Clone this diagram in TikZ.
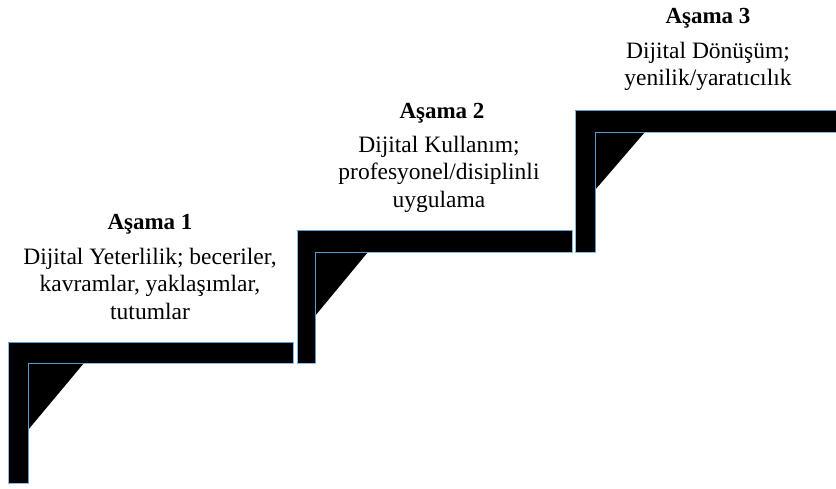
\documentclass[tikz,border=0pt]{standalone}
\usepackage{fontspec}
\setmainfont{Liberation Serif}
\definecolor{stepblue}{RGB}{91,155,213}
\tikzset{
	stair/.style={fill=black,draw=stepblue!70,line width=0.6pt},
	edge/.style={draw=stepblue,line width=1pt},
	wedge/.style={fill=black},
	stagetitle/.style={anchor=base,font=\fontsize{23}{28}\selectfont\bfseries},
	stagetext/.style={anchor=base,align=center,font=\fontsize{23.5}{27.5}\selectfont},
}
\begin{document}
\begin{tikzpicture}[x=1pt,y=-1pt]
	\useasboundingbox (0,0) rectangle (836,488);
	\node [coordinate] (C1) at (28,363) {};
	\node [coordinate] (H1) at (84,363) {};
	\node [coordinate] (V1) at (28,430) {};
	\node [coordinate] (C2) at (315,252) {};
	\node [coordinate] (H2) at (368,252) {};
	\node [coordinate] (V2) at (315,316) {};
	\node [coordinate] (C3) at (595,132) {};
	\node [coordinate] (H3) at (645,132) {};
	\node [coordinate] (V3) at (595,190) {};
	\draw [stair] (8,483) -- (8,342) -- (293,342) -- (293,363)
	-- (28,363) -- (28,483) -- cycle;
	\draw [stair] (297,363) -- (297,230) -- (572,230) -- (572,252)
	-- (315,252) -- (315,363) -- cycle;
	\draw [stair] (575,252) -- (575,110) -- (840,110) -- (840,132)
	-- (595,132) -- (595,252) -- cycle;
	\draw [edge] (8,342) -- (293,342);
	\draw [edge] (297,230) -- (572,230);
	\draw [edge] (575,110) -- (840,110);
	\fill [wedge] (C1) -- (H1) -- (V1) -- cycle;
	\fill [wedge] (C2) -- (H2) -- (V2) -- cycle;
	\fill [wedge] (C3) -- (H3) -- (V3) -- cycle;
	\draw [edge] (H1) -- (C1) -- (28,483);
	\draw [edge] (H2) -- (C2) -- (315,363);
	\draw [edge] (H3) -- (C3) -- (595,252);
	\node [stagetitle] (T1) at (150,229) {Aşama 1};
	\node [stagetext] (D1) at (150,319) {Dijital Yeterlilik; beceriler,\\kavramlar, yaklaşımlar,\\tutumlar};
	\node [stagetitle] (T2) at (442,118) {Aşama 2};
	\node [stagetext] (D2) at (439,207) {Dijital Kullanım;\\profesyonel/disiplinli\\uygulama};
	\node [stagetitle] (T3) at (708,23) {Aşama 3};
	\node [stagetext] (D3) at (708,85.5) {Dijital Dönüşüm;\\yenilik/yaratıcılık};
\end{tikzpicture}
\end{document}
